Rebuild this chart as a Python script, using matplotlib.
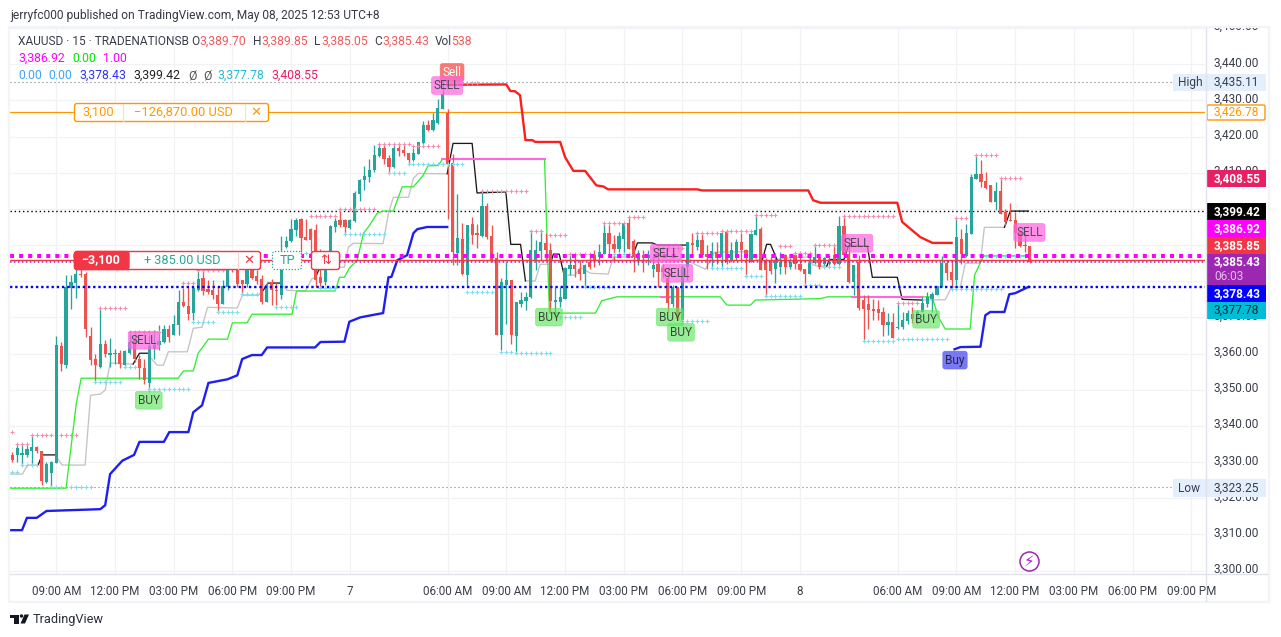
import numpy as np
import matplotlib
matplotlib.use("Agg")
import matplotlib.pyplot as plt
from matplotlib.patches import Rectangle, FancyBboxPatch, Circle, Polygon

plt.rcParams['font.family'] = ['Roboto', 'DejaVu Sans']

nan = float('nan')

opens = [3331.9,3331.9,3331.9,3331.9,3333.1,3334.1,3333.0,3324.6,3326.9,3329.8,
3362.0,3356.8,3378.2,3379.5,3382.1,3382.1,3364.8,3358.4,3356.3,3362.6,
3359.6,3359.8,3360.3,3356.8,3360.2,3363.7,3358.4,3356.1,3351.9,3361.4,
3362.3,3363.2,3366.9,3365.1,3367.8,3374.2,3373.2,3371.2,3377.5,3380.9,
3377.8,3377.5,3376.1,3373.8,3378.4,3385.8,3384.9,3380.3,3379.2,3383.0,
3381.4,3380.5,3374.3,3379.8,3377.7,3376.1,3389.5,3391.0,3394.1,3397.1,
3392.2,3394.4,3394.1,3381.2,3379.8,3385.3,3395.0,3397.0,3396.8,3394.8,
3396.7,3404.0,3407.9,3408.8,3410.7,3414.5,3416.7,3414.1,3411.6,3416.7,
3416.2,3415.5,3413.4,3415.3,3418.2,3423.1,3421.7,3423.8,3427.7,3426.5,
3412.7,3387.8,3391.6,3381.8,3395.7,3393.4,3392.5,3400.7,3392.5,3386.4,
3365.1,3378.9,3380.3,3364.8,3373.8,3374.6,3375.7,3385.8,3388.4,3390.6,
3388.7,3374.3,3374.3,3375.2,3383.5,3384.6,3383.5,3382.0,3385.3,3387.2,
3386.7,3387.6,3393.2,3390.4,3389.0,3391.8,3396.1,3391.1,3386.0,3387.2,
3386.3,3383.5,3384.9,3383.7,3381.0,3373.8,3378.4,3369.2,3384.0,3390.6,
3389.6,3391.3,3387.5,3386.5,3388.1,3386.7,3393.6,3385.8,3387.6,3390.9,
3388.6,3385.3,3392.9,3394.5,3385.8,3385.8,3383.5,3383.9,3387.2,3383.9,
3387.2,3384.9,3383.5,3382.1,3385.1,3386.7,3384.9,3384.7,3387.2,3384.7,
3395.2,3387.5,3379.8,3385.2,3374.7,3373.6,3372.4,3372.3,3371.5,3367.8,
3368.8,3367.1,3367.4,3369.0,3370.9,3369.7,3371.5,3373.8,3375.2,3376.1,
3378.6,3385.0,3382.6,3380.3,3391.8,3386.9,3393.0,3408.4,3409.7,3407.7,
3406.5,3401.9,3404.9,3399.1,3397.0,3396.9,3393.6,3390.0,3389.7]

closes = [3330.5,3333.8,3332.6,3333.6,3334.1,3333.0,3324.8,3329.4,3330.0,3362.3,
3357.1,3378.4,3379.8,3382.1,3381.6,3366.9,3358.2,3356.8,3362.6,3359.8,
3360.2,3360.2,3357.1,3360.7,3363.1,3358.4,3355.9,3352.8,3362.0,3362.3,
3363.4,3366.9,3364.6,3368.1,3374.3,3373.1,3371.0,3378.0,3380.7,3377.2,
3376.9,3376.1,3373.8,3378.6,3383.5,3383.0,3379.3,3379.2,3383.0,3380.9,
3380.1,3374.3,3379.1,3377.5,3377.3,3383.0,3391.1,3394.5,3397.0,3392.0,
3391.5,3391.3,3380.3,3379.5,3385.3,3395.3,3396.7,3395.5,3395.0,3396.8,
3404.4,3408.1,3409.0,3410.7,3414.8,3416.7,3413.9,3411.6,3416.7,3415.9,
3415.5,3413.4,3415.5,3418.5,3423.1,3421.7,3424.5,3428.0,3431.7,3412.5,
3388.1,3392.0,3381.9,3395.5,3392.7,3392.7,3400.7,3392.2,3385.8,3365.1,
3379.7,3380.3,3365.1,3374.3,3374.7,3375.7,3388.7,3388.7,3390.8,3388.6,
3374.6,3374.9,3375.7,3383.8,3384.4,3383.5,3382.0,3384.4,3384.0,3385.8,
3388.1,3393.2,3390.4,3389.0,3392.5,3396.1,3389.0,3386.7,3387.8,3386.3,
3387.2,3384.4,3382.6,3382.6,3374.0,3378.3,3369.7,3384.0,3390.9,3389.9,
3391.3,3387.2,3386.7,3388.3,3386.5,3393.4,3385.3,3388.5,3390.9,3388.6,
3386.3,3393.0,3394.3,3383.0,3383.0,3382.8,3385.5,3385.3,3383.9,3385.3,
3384.9,3383.0,3382.1,3385.1,3386.7,3383.9,3386.3,3385.3,3384.9,3395.2,
3387.2,3379.8,3384.4,3372.6,3372.4,3372.0,3371.8,3371.1,3367.8,3368.8,
3364.4,3367.4,3369.4,3371.1,3369.7,3371.5,3374.0,3375.7,3376.4,3378.6,
3385.0,3382.3,3380.3,3392.1,3387.6,3393.4,3408.8,3409.7,3407.4,3405.9,
3401.9,3404.9,3398.5,3396.4,3396.7,3393.4,3389.7,3389.7,3385.43]

highs = [3332.8,3335.1,3334.7,3335.1,3337.4,3334.4,3333.0,3330.1,3330.3,3364.8,
3363.1,3381.7,3381.7,3384.4,3383.5,3382.6,3367.4,3360.0,3372.4,3363.7,
3364.2,3361.4,3361.1,3361.1,3366.3,3366.0,3359.6,3358.6,3365.1,3366.5,
3367.8,3367.8,3367.8,3370.6,3377.5,3378.0,3378.4,3378.4,3383.0,3383.2,
3380.4,3380.4,3378.4,3380.3,3384.9,3386.2,3386.2,3380.3,3383.9,3384.9,
3383.0,3381.8,3379.8,3380.7,3379.8,3392.4,3392.4,3397.3,3397.6,3397.6,
3397.3,3394.6,3395.9,3389.0,3386.7,3395.5,3397.6,3399.8,3397.3,3397.1,
3404.9,3408.4,3411.8,3413.9,3417.6,3417.9,3417.9,3414.8,3417.6,3417.9,
3417.6,3415.5,3416.9,3418.5,3424.3,3424.5,3426.5,3430.5,3435.1,3427.7,
3415.3,3404.0,3396.1,3395.5,3397.8,3395.9,3404.7,3401.6,3395.5,3388.1,
3381.0,3385.3,3380.3,3374.3,3377.0,3377.0,3394.1,3391.3,3394.1,3393.2,
3390.6,3378.4,3378.4,3384.0,3387.2,3387.2,3385.8,3384.9,3387.6,3388.6,
3390.4,3395.9,3395.5,3392.7,3393.6,3396.1,3397.8,3391.8,3388.6,3388.6,
3388.6,3386.7,3387.6,3384.9,3384.0,3378.9,3378.4,3384.4,3390.9,3393.2,
3393.6,3393.2,3389.9,3390.9,3390.9,3393.6,3394.1,3390.9,3391.8,3393.2,
3389.0,3393.2,3398.2,3395.0,3386.3,3386.7,3387.8,3388.1,3387.6,3386.3,
3387.6,3387.6,3383.5,3387.6,3389.9,3387.6,3386.7,3387.2,3390.0,3397.9,
3397.9,3390.9,3384.4,3387.2,3376.3,3376.1,3375.2,3374.7,3372.9,3371.1,
3371.1,3374.0,3371.5,3372.0,3372.9,3372.0,3375.7,3377.0,3377.0,3378.6,
3386.9,3385.8,3385.8,3397.6,3394.5,3395.9,3409.7,3414.8,3413.4,3410.2,
3406.5,3407.4,3408.5,3400.1,3401.6,3399.1,3394.1,3393.2,3389.85]

lows = [3330.1,3330.1,3328.9,3331.5,3329.4,3332.4,3323.6,3324.3,3323.0,3329.8,
3355.2,3355.9,3372.4,3375.5,3381.2,3364.6,3356.8,3352.5,3355.9,3359.1,
3356.3,3357.2,3356.1,3355.9,3360.0,3357.7,3353.1,3351.7,3349.4,3358.6,
3360.9,3362.8,3363.2,3365.1,3365.1,3372.9,3369.2,3369.2,3377.3,3376.1,
3376.6,3375.2,3371.5,3373.6,3377.7,3382.6,3378.4,3376.6,3378.4,3380.7,
3379.3,3373.8,3374.3,3373.3,3373.3,3375.2,3389.3,3390.8,3392.4,3388.1,
3391.3,3388.1,3378.4,3378.4,3378.9,3384.9,3393.6,3395.0,3393.0,3394.5,
3396.4,3402.2,3405.1,3407.4,3410.2,3414.4,3412.5,3409.9,3411.4,3414.5,
3414.5,3412.5,3413.2,3415.1,3418.0,3421.5,3421.5,3423.6,3427.7,3397.3,
3384.4,3384.4,3381.6,3378.4,3390.4,3389.3,3392.2,3391.8,3385.3,3365.1,
3361.0,3368.3,3362.6,3360.0,3372.9,3372.0,3375.5,3383.0,3385.8,3385.8,
3371.1,3370.2,3372.9,3375.2,3381.7,3381.2,3380.3,3378.3,3383.5,3384.0,
3384.4,3387.6,3387.6,3385.8,3388.1,3387.2,3389.0,3382.6,3384.4,3382.6,
3384.4,3381.2,3378.3,3381.2,3371.5,3372.9,3369.2,3367.9,3380.3,3387.2,
3388.5,3386.7,3383.5,3383.8,3384.9,3384.0,3384.9,3385.3,3385.8,3385.8,
3381.2,3385.3,3392.7,3383.0,3375.7,3382.1,3379.5,3382.1,3382.1,3383.5,
3383.5,3382.8,3378.6,3381.9,3384.9,3383.5,3384.0,3384.0,3384.4,3384.4,
3387.2,3379.4,3376.1,3372.0,3363.7,3366.9,3369.2,3369.2,3364.8,3365.1,
3364.2,3366.9,3366.9,3368.3,3368.5,3368.3,3371.4,3372.9,3371.5,3376.1,
3378.4,3380.3,3378.0,3378.9,3384.9,3386.7,3393.0,3408.4,3406.1,3405.6,
3401.9,3399.6,3398.5,3395.5,3396.7,3389.3,3389.5,3388.1,3385.05]

first_bar = -9

blue_x = [-9.4,-7,-6,-4,-2,9,10,11,13.5,15.9,17,22,23.1,27,28,29.8,31.1,35,37,38,40,42,43.1,52.9,54,58.9,59.9,62.1,64,66.8,67.9,68.5,69.7,71.7,73,73.8,75.8,79.9,
          nan,183.6,184.8,188.9,189.9,190.9,193.8,194.8,196,198.7]
blue_y = [3311.2,3311.2,3314.6,3314.6,3316.5,3317,3318.1,3326.7,3330.4,3332,3335.6,3335.6,3338.3,3338.3,3343.8,3345.7,3351.9,3352.9,3354,3358.5,3359.6,3359.6,3361.7,3361.7,3363.2,3363.3,3368.8,3370,3370.5,3371.2,3381.1,3381.2,3385.8,3387.2,3393.3,3394.4,3395,3395,
          nan,3361.2,3361.8,3361.9,3370.6,3371.5,3371.5,3376.4,3376.7,3378.43]

red_x = [79.9,92,92.8,93.8,94.8,95.9,97.3,97.9,103,104,105.7,108.1,110.4,111.8,112.8,131,132,153.7,154.7,156.2,171.9,172.9,176.6,179.1,183]
red_y = [3434.3,3434.4,3432.6,3432.5,3431.4,3419,3419,3418.5,3418.5,3414.3,3410.5,3410.5,3406.5,3406.2,3405.4,3405.4,3405.1,3405.1,3402.4,3401.7,3401.7,3396.4,3392.2,3390.6,3390.6]

green_x = [-9.4,2,4.1,5.1,24.9,26,28,29,31.1,35,36,39,40,48.2,49.1,57,57.9,58.9,59.9,61.5,62.8,63.8,65.6,66.8,68.9,70.7,73,75,76,78.1,78.9,
           99.8,100.8,110.2,111.5,112.6,114.6,123.7,nan,126.1,135.7,137.1,141.9,142.9,156.2,157.6,162.7,nan,177,179,180.3,181.7,186.8,187.7,189.5,198.5]
green_y = [3322.8,3322.8,3346.3,3353.2,3353.2,3355.2,3355.2,3360.1,3364,3364,3368.5,3368.5,3370.9,3370.9,3377.3,3377.3,3381.1,3381.1,3383.6,3385.8,3393.3,3395,3398.8,3399.4,3399.4,3406.1,3406.1,3409.3,3411.9,3412,3413.7,
           3413.7,3371.2,3371.2,3374.6,3375,3375.7,3375.7,nan,3375.7,3375.7,3373.4,3373.4,3374.8,3375.2,3375.7,3375.7,nan,3375.7,3375.7,3370.1,3366.8,3366.8,3381.7,3386.9,3386.9]

pink_x = [78.9,99.8,nan,123.7,126.1,nan,162.7,177]
pink_y = [3413.7,3413.7,nan,3375.7,3375.7,nan,3375.7,3375.7]
pink_dash_x = [189.5,198.5]
pink_dash_y = [3386.9,3386.9]

gray_x = [-9.4,-6.9,-5.9,-3.7,nan,-0.2,0.2,1.2,5.9,7,9,10,11,15.7,nan,19.2,20.6,21.9,22.9,26.8,28,29.8,30.9,37,38,41.3,42.3,nan,45.8,47.2,50.9,52.3,52.9,nan,53.6,57.6,58.9,59.7,60.7,66.8,67.9,68.9,72,73,74,79.9,nan,
          95.9,97.9,98.9,101,nan,103.8,106,107.1,109.2,112.8,113.9,117.7,nan,129,129.6,132.7,134.5,141.9,143.3,144.3,nan,147.3,150,153.7,154.7,155.5,157.5,nan,177,181.7,183,184.8,185.8,188.9,189.7,193.8]
gray_y = [3326.7,3326.7,3329.2,3329.2,nan,3332,3331.1,3329.2,3329.2,3348.5,3348.8,3349.9,3357.4,3357.1,nan,3359,3356.8,3356.8,3360.5,3360.5,3367,3367.3,3372.8,3372.6,3376.1,3376.1,3377.5,nan,3379.5,3377.5,3377.3,3380.8,3380.8,nan,3383,3383.9,3383.9,3389.4,3390.5,3390.4,3398.8,3403.2,3403.2,3408.5,3409.8,3409.7,nan,
          3380.1,3380.1,3384.7,3384.7,nan,3381.7,3381.7,3383.8,3382.2,3382,3386.7,3386.7,nan,3390,3385.3,3383.3,3388,3388.2,3385.8,3385.8,nan,3386,3386.5,3386.7,3384.5,3384.2,3384.2,nan,3374.8,3374.9,3378.4,3378.4,3385,3385,3394.9,3394.9]

black_x = [-3.7,-2.9,-0.2,nan,15.7,17,19.2,nan,42.3,43.3,45.8,nan,52.9,53.6,nan,79.9,81.1,85,86,91.9,92.9,94.9,95.9,nan,101,101.6,102.8,103.8,nan,117.7,118.8,121.8,122.9,129,nan,144.3,145.2,146,147.3,nan,157.5,158,161,161.9,165.8,166.8,171.9,172.9,177,nan,193.8,195,198.7]
black_y = [3329.2,3332,3332,nan,3357.1,3360.1,3360.1,nan,3377.5,3379.5,3379.5,nan,3380.8,3383,nan,3409.7,3418.1,3418.1,3404.4,3404.7,3390.2,3390.2,3380.1,nan,3384.7,3387.5,3387.5,3381.7,nan,3386.7,3390.6,3390.6,3390,3390,nan,3385.8,3390.2,3390.2,3386,nan,3384.2,3386,3386,3389.7,3389.7,3381.1,3381.1,3375,3374.8,nan,3394.9,3399.4,3399.4]

plus_hi_start = [-9,-8,-5,1,9,15,26,29,52,58,66,73,81,87,97,101,105,112,117,122,131,136,143,148,151,155,161,172,184,188,193]
plus_hi_end   = [-9,-6,-1,4,14,21,28,34,57,65,72,78,86,96,99,104,109,116,120,128,135,142,147,150,154,159,171,176,186,192,197]
plus_hi_level = [3338.3,3335,3337.5,3337.5,3372.6,3366,3379.6,3383,3398,3399.9,3417.8,3417.4,3434.8,3404.9,3394,3392.7,3387.5,3396,3397.7,3389.1,3393.3,3393.8,3398.2,3389.7,3387.8,3390,3398,3373.9,3397.4,3414.8,3408.5]

plus_lo_start = [-9,-7,-1,3,8,14,19,28,33,38,45,51,54,59,68,72,84,91,94,102,108,114,128,134,141,145,153,157,165,172,183,190]
plus_lo_end   = [-8,-4,1,7,13,16,27,32,37,41,49,52,57,67,71,83,89,93,101,107,113,117,133,140,144,152,156,160,171,182,193,198]
plus_lo_level = [3327.3,3329.2,3323.1,3323.1,3352.2,3356.3,3350.2,3368.7,3371.4,3376.4,3372.9,3387.7,3378.2,3393,3409.9,3412.5,3377,3360.4,3360.1,3370.1,3378.4,3387.5,3369,3383.6,3381.4,3375.9,3378.9,3384,3363.5,3364,3377.8,3386.9]

sig_sell_x = [80.9]
sig_sell_y = [3437.7]
sig_SELL_x = [17.9,79.9,124.6,126.9,163.7,198.9]
sig_SELL_y = [3363.7,3434.1,3387.7,3382.2,3390.5,3393.5]
sig_BUY_x = [18.9,100.7,125.4,127.7,177.8]
sig_BUY_y = [3347.1,3370.1,3370.1,3365.9,3369.5]
sig_buy_x = [183.7]
sig_buy_y = [3358.2]

time_ticks = [0,12,24,36,48,60,80,92,104,116,128,140,152,172,184,196,208,220,232]
time_labels = ['09:00 AM','12:00 PM','03:00 PM','06:00 PM','09:00 PM','7','06:00 AM','09:00 AM','12:00 PM','03:00 PM','06:00 PM','09:00 PM','8','06:00 AM','09:00 AM','12:00 PM','03:00 PM','06:00 PM','09:00 PM']
price_ticks = list(range(3300, 3460, 10))
hidden_ticks = [3380, 3390, 3400]

high_price = 3435.11
low_price = 3323.25
order_price = 3426.78
black_price = 3399.42
magenta_price = 3386.92
position_price = 3385.85
last_price = 3385.43
blue_price = 3378.43
cyan_price = 3377.78
red_line_price = 3408.55

UP = '#26a69a'
DOWN = '#ef5350'
W, H = 1281, 637

fig = plt.figure(figsize=(W/100, H/100), dpi=100, facecolor='white')
ax = fig.add_axes([10/W, 1-574/H, 1195/W, 546/H])
ax.set_xlim(-9.46, 234.8)
ax.set_ylim(3430-474*0.2762, 3430+72*0.2762)
ax.set_yticks(price_ticks)
ax.set_yticklabels([])
ax.set_xticks(time_ticks)
ax.set_xticklabels(time_labels, fontsize=8.4, color='#3a3e4a')
ax.tick_params(length=0, pad=8)
ax.grid(True, color='#f0f2f5', lw=0.9)
ax.set_axisbelow(True)
for s in ax.spines.values():
    s.set_visible(False)

# horizontal levels
xl = ax.get_xlim()
ax.plot(xl, [high_price]*2, color='#787b86', lw=0.8, ls=(0, (1, 2.6)), zorder=1.5)
ax.plot(xl, [low_price]*2, color='#787b86', lw=0.8, ls=(0, (1, 2.6)), zorder=1.5)
ax.axhline(order_price, color='#ff9800', lw=0.9, zorder=1.5)
ax.plot(xl, [black_price]*2, color='black', lw=1.0, ls=(0, (1, 2)), zorder=1.5)

# indicator lines under the candles
ax.plot(gray_x, gray_y, color='#c4c4c4', lw=0.95, zorder=2)
ax.plot(black_x, black_y, color='#1a1a1a', lw=0.95, zorder=2)
ax.plot(green_x, green_y, color='#33ee33', lw=0.95, zorder=2)
ax.plot(pink_x, pink_y, color='#ff66dd', lw=1.5, zorder=2.1)
ax.plot(pink_dash_x, pink_dash_y, color='#55ee55', lw=1.4, zorder=2.1)
ax.plot(blue_x, blue_y, color='#1f1fee', lw=1.7, zorder=2.2, solid_joinstyle='round')
ax.plot(red_x, red_y, color='#fb2020', lw=1.7, zorder=2.2, solid_joinstyle='round')

# candles
n = len(opens)
xs = np.arange(first_bar, first_bar + n)
o, c, hi, lo = map(np.array, (opens, closes, highs, lows))
cols = [UP if cc >= oo else DOWN for oo, cc in zip(o, c)]
ax.vlines(xs, lo, hi, colors=cols, lw=0.95, zorder=3)
ax.bar(xs, np.maximum(np.abs(c-o), 0.25), bottom=np.minimum(o, c), width=0.66, color=cols, lw=0, zorder=3.1)

# plus marks
for a, b, v in zip(plus_hi_start, plus_hi_end, plus_hi_level):
    i = np.arange(a, b+1)
    ax.plot(i, [v]*len(i), ls='', marker='+', ms=2.5, mew=0.8, color='#f48fb1', zorder=3.2)
for a, b, v in zip(plus_lo_start, plus_lo_end, plus_lo_level):
    i = np.arange(a, b+1)
    ax.plot(i, [v]*len(i), ls='', marker='+', ms=2.5, mew=0.8, color='#80deea', zorder=3.2)

# position lines over candles
ax.plot(xl, [magenta_price]*2, color='#ff00ff', lw=2.9, ls=(0, (1, 1.25)), zorder=4, dash_capstyle='butt')
ax.axhline(position_price, color='#f23645', lw=1.0, zorder=4)
ax.plot(xl, [last_price]*2, color='#9c27b0', lw=1.1, ls=(0, (1, 1.6)), zorder=4)
ax.plot(xl, [blue_price]*2, color='#0000ff', lw=1.7, ls=(0, (1, 1.2)), zorder=4, dash_capstyle='butt')

# signal labels
def signal(xv, yv, text, bg, fg):
    for a, b in zip(xv, yv):
        ax.text(a, b, text, ha='center', va='center', fontsize=8.6, color=fg, zorder=5,
                bbox=dict(boxstyle='round,pad=0.2,rounding_size=0.2', fc=bg, ec=bg, lw=0.5))

signal(sig_sell_x, sig_sell_y, 'Sell', (0.98, 0.42, 0.40, 0.9), 'white')
signal(sig_SELL_x, sig_SELL_y, 'SELL', (1.0, 0.40, 0.88, 0.72), '#4a4a55')
signal(sig_BUY_x, sig_BUY_y, 'BUY', (0.40, 0.90, 0.40, 0.68), '#3a4a3a')
signal(sig_buy_x, sig_buy_y, 'Buy', (0.40, 0.40, 0.95, 0.88), '#26264a')

# price scale
axr = fig.add_axes([1205/W, 1-574/H, 62/W, 546/H])
axr.set_xlim(0, 62)
axr.set_ylim(ax.get_ylim())
axr.axis('off')
for p in price_ticks:
    if p not in hidden_ticks:
        axr.text(8.5, p+0.35, f'{p:,.2f}', fontsize=8.6, color='#3a3e4a', va='center', ha='left', clip_on=True)

# overlay in pixel coordinates for the terminal chrome
ui = fig.add_axes([0, 0, 1, 1], facecolor='none', zorder=10)
ui.set_xlim(0, W)
ui.set_ylim(H, 0)
ui.axis('off')

ui.add_patch(Rectangle((9, 27), 1260, 575, fc='none', ec='#f2f4f7', lw=1.6))
ui.plot([10, 1267], [574, 574], color='#e0e3eb', lw=1)
ui.plot([1205.5, 1205.5], [28, 601], color='#e0e3eb', lw=1)

def t(x, y, s, color='#3a3e4a', size=8.6, ha='left', weight='normal', **kw):
    return ui.text(x, y, s, color=color, fontsize=size, ha=ha, va='center', fontweight=weight, **kw)

t(10, 15, 'jerryfc000 published on TradingView.com, May 08, 2025 12:53 UTC+8', '#363a45', 8.68)

RV = '#f05a5a'
LS = 8.85
t(18, 41.5, 'XAUUSD · 15 · TRADENATIONSB', '#3a3e4a', 8.6)
for x, s in zip((191, 253, 314, 374), 'OHLC'):
    t(x, 41.5, s, '#3a3e4a', 8.6)
for x, s in zip((199, 261, 321, 382), ('3,389.70', '3,389.85', '3,385.05', '3,385.43')):
    t(x, 41.5, s, RV, LS)
t(435, 41.5, 'Vol', '#3a3e4a', 8.6)
t(451, 41.5, '538', RV, LS)

t(18, 58.5, '3,386.92', '#ff00ff', LS)
t(72, 58.5, '0.00', '#00e600', LS)
t(103, 58.5, '1.00', '#ff00ff', LS)

t(18, 75.5, '0.00', '#42a5f5', LS)
t(48, 75.5, '0.00', '#42a5f5', LS)
t(79, 75.5, '3,378.43', '#3030ff', LS)
t(133, 75.5, '3,399.42', '#222222', LS)
t(188, 75.5, 'Ø', '#555555', LS)
t(203, 75.5, 'Ø', '#555555', LS)
t(217, 75.5, '3,377.78', '#26bcd4', LS)
t(271, 75.5, '3,408.55', '#e91e63', LS)

# value tags on the scale
def tag(y0, y1, bg, s, fg, weight='bold'):
    ui.add_patch(Rectangle((1206, y0), 60, y1-y0, fc=bg, ec='none'))
    t(1214, (y0+y1)/2, s, fg, 8.6, weight=weight)

ui.add_patch(Rectangle((1173, 74), 93, 17, fc='#e3effd', ec='none'))
t(1178, 82.3, 'High', '#3a3e4a', 8.6)
t(1214, 82.3, f'{high_price:,.2f}', '#3a3e4a', 8.6)
ui.add_patch(Rectangle((1173, 479), 93, 18, fc='#e3effd', ec='none'))
t(1178, 488, 'Low', '#3a3e4a', 8.6)
t(1214, 488, f'{low_price:,.2f}', '#3a3e4a', 8.6)

ui.add_patch(FancyBboxPatch((1207, 105), 58, 15, boxstyle='round,pad=0,rounding_size=1.5', fc='white', ec='#ff9800', lw=1))
t(1214, 112.5, f'{order_price:,.2f}', '#ff9800', 8.6)
tag(170, 187, '#e91e63', f'{red_line_price:,.2f}', 'white')
tag(203, 220, '#000000', f'{black_price:,.2f}', 'white')
tag(220, 237, '#ff00ff', f'{magenta_price:,.2f}', 'white')
tag(237, 254, '#f23645', f'{position_price:,.2f}', 'white')
ui.add_patch(Rectangle((1206, 254), 60, 31, fc='#9c27b0', ec='none'))
t(1214, 261.5, f'{last_price:,.2f}', 'white', 8.6, weight='bold')
t(1214, 276.5, '06:03', '#e1bee7', 8.6)
tag(285, 302, '#0000ff', f'{blue_price:,.2f}', 'white')
tag(302, 319, '#00bcd4', f'{cyan_price:,.2f}', '#0b2b33', 'normal')

# order widgets
ui.add_patch(FancyBboxPatch((74.5, 103.5), 194, 18, boxstyle='round,pad=0,rounding_size=2.5', fc='white', ec='#ff9800', lw=1))
ui.plot([122.5, 122.5], [104, 121], color='#ffe0b2', lw=0.8)
ui.plot([244.5, 244.5], [104, 121], color='#ffe0b2', lw=0.8)
t(98.5, 112, '3,100', '#ff9800', 9.3, ha='center')
t(183, 112, '−126,870.00 USD', '#ff9800', 9.3, ha='center')
t(256, 112, '✕', '#ff9800', 9.5, ha='center', family='DejaVu Sans')

ui.add_patch(FancyBboxPatch((74.5, 251.5), 186, 18, boxstyle='round,pad=0,rounding_size=2.5', fc='white', ec='#f23645', lw=1))
ui.add_patch(FancyBboxPatch((74.5, 251.5), 54.5, 18, boxstyle='round,pad=0,rounding_size=2.5', fc='#f23645', ec='#f23645', lw=1))
ui.plot([237.5, 237.5], [252, 269], color='#fbd0d3', lw=0.8)
t(101, 260, '−3,100', 'white', 9, ha='center', weight='bold')
t(182, 260, '+ 385.00 USD', '#26a69a', 9.1, ha='center')
t(248.5, 260, '✕', '#f23645', 9.5, ha='center', family='DejaVu Sans')

ui.add_patch(FancyBboxPatch((272.5, 251.5), 29, 18, boxstyle='round,pad=0,rounding_size=2.5', fc='white', ec='#26a69a', lw=0.9, ls=(0, (1, 1.4))))
t(287, 260.5, 'TP', '#26a69a', 9.3, ha='center')
ui.add_patch(FancyBboxPatch((311.5, 251.5), 28, 18, boxstyle='round,pad=0,rounding_size=2.5', fc='white', ec='#f23645', lw=1))
t(325.5, 260, '⇅', '#f23645', 9.5, ha='center', family='DejaVu Sans')

# lightning badge
ui.add_patch(Circle((1029.5, 561.5), 9.5, fc='white', ec='#9c27b0', lw=1.1))
t(1029.5, 561.5, '⚡', '#9c27b0', 11, ha='center', family='DejaVu Sans')

# footer logo and name
ui.add_patch(Rectangle((10, 614.5), 9, 3.5, fc='#131722', ec='none'))
ui.add_patch(Rectangle((14, 614.5), 5, 9, fc='#131722', ec='none'))
ui.add_patch(Circle((21.5, 616), 1.7, fc='#131722', ec='none'))
ui.add_patch(Polygon([(24.5, 614.5), (29, 614.5), (25, 623.5), (20.5, 623.5)], fc='#131722', ec='none'))
t(33, 619.5, 'TradingView', '#2a2e39', 9.2)

fig.savefig('out.png', dpi=100, facecolor='white')
